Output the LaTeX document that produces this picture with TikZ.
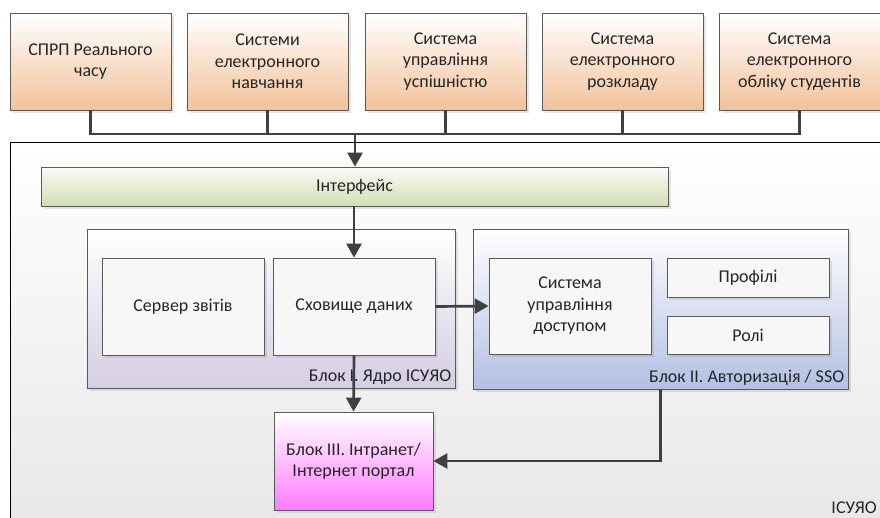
\documentclass[tikz,border=0pt]{standalone}
\usepackage{fontspec}
\setmainfont{Carlito}
\usetikzlibrary{arrows.meta,shadows}
\definecolor{edge}{HTML}{5A5A5A}
\definecolor{wire}{HTML}{404040}
\definecolor{peach}{HTML}{F2C29A}
\definecolor{olive}{HTML}{D2DDB2}
\definecolor{lilac}{HTML}{D5CDE3}
\definecolor{steel}{HTML}{B3C0E3}
\definecolor{pink}{HTML}{FF7CFF}
\tikzset{
  blk/.style={draw=edge,line width=0.8pt,inner sep=0pt,align=center,
    text=black!85,font=\fontsize{18}{21.5}\selectfont,
    drop shadow={shadow xshift=2.5pt,shadow yshift=-2.5pt,opacity=0.2}},
  src/.style={blk,top color=white,bottom color=peach,
    minimum width=161pt,minimum height=97pt},
  inbox/.style={blk,fill=white!97!black,minimum width=162pt},
  tag/.style={anchor=south east,inner sep=4pt,text=black!85,
    font=\fontsize{18}{21.5}\selectfont},
  wirearrow/.style={draw=wire,line width=2.7pt,
    -{Triangle[length=14pt,width=15pt]}}
}
\begin{document}
\begin{tikzpicture}[x=1pt,y=-1pt]
 \useasboundingbox (0,0) rectangle (880,517);
 % outer frame of the system
 \draw[black,line width=0.8pt,top color=white,bottom color=black!9]
   (10,142) rectangle (884,521);
 \node[tag,inner sep=3pt] (isuyo) at (880,517) {ІСУЯО};
 % external systems
 \node[src] (s1) at (90.5,61.5) {СПРП Реального\\часу};
 \node[src] (s2) at (267.5,61.5) {Системи\\електронного\\навчання};
 \node[src] (s3) at (445.5,61.5) {Система\\управління\\успішністю};
 \node[src] (s4) at (622.5,61.5) {Система\\електронного\\розкладу};
 \node[src] (s5) at (799.5,61.5) {Система\\електронного\\обліку студентів};
 \coordinate (bus) at (355,134);
 % interface
 \node[blk,top color=white!90!olive,bottom color=olive,
   minimum width=627pt,minimum height=39pt] (iface) at (354.5,186.5) {Інтерфейс};
 % block I
 \node[blk,top color=white,bottom color=lilac,
   minimum width=368pt,minimum height=159pt] (b1) at (271,308.5) {};
 \node[tag] (b1tag) at (b1.south east) {Блок І. Ядро ІСУЯО};
 \node[inbox,minimum height=97pt] (report) at (183,306.5) {Сервер звітів};
 \node[inbox,minimum height=97pt] (store) at (354,306.5) {Сховище даних};
 % block II
 \node[blk,top color=white,bottom color=steel,
   minimum width=375pt,minimum height=160pt] (b2) at (660.5,309) {};
 \node[tag] (b2tag) at (b2.south east) {Блок ІІ. Авторизація / SSO};
 \node[inbox,minimum height=96pt] (access) at (570,306)
   {Система\\управління\\доступом};
 \node[inbox,minimum height=39pt] (prof) at (748,277.5) {Профілі};
 \node[inbox,minimum height=38pt] (roles) at (748,335) {Ролі};
 % block III
 \node[blk,top color=white,bottom color=pink,
   minimum width=159pt,minimum height=98pt] (portal) at (353.5,461)
   {Блок ІІІ. Інтранет/\\Інтернет портал};
 % connectors
 \draw[draw=wire,line width=2.7pt] (s1.south) |- (bus) (s2.south) |- (bus)
   (s3.south) |- (bus) (s4.south) |- (bus) (s5.south) |- (bus);
 \draw[wirearrow] (bus) -- (bus |- iface.north);
 \draw[wirearrow] (iface.south -| store.north) -- (store.north);
 \draw[wirearrow] (store.east) -- (access.west);
 \draw[wirearrow] (store.south) -- (portal.north);
 \draw[wirearrow] (b2.south) |- (portal.east);
\end{tikzpicture}
\end{document}
